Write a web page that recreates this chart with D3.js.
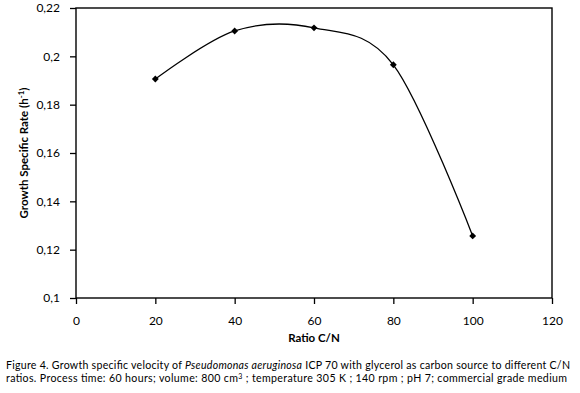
<!DOCTYPE html>
<html>
<head>
<meta charset="utf-8">
<script src="https://cdn.jsdelivr.net/npm/d3@7"></script>
<style>
  body { margin: 0; background: #fff; }
  text { font-family: "Lato", "DejaVu Sans", sans-serif; fill: #000; }
</style>
</head>
<body>
<div id="chart"></div>
<script>
// data
var ratioCN = [20, 40, 60, 80, 100];
var growthRate = [0.1906, 0.2105, 0.2118, 0.1965, 0.1257];
var xTicks = [0, 20, 40, 60, 80, 100, 120];
var yTicks = [0.1, 0.12, 0.14, 0.16, 0.18, 0.2, 0.22];

var width = 580, height = 393;
var margin = {left: 76, right: 28, top: 8, bottom: 95};

var svg = d3.select("#chart").append("svg")
    .attr("width", width)
    .attr("height", height);

var x = d3.scaleLinear().domain([0, 120]).range([margin.left, width - margin.right]);
var y = d3.scaleLinear().domain([0.1, 0.22]).range([height - margin.bottom, margin.top]);

var fmt = function(d) { return String(+d.toFixed(2)).replace(".", ","); };

// frame
svg.append("rect")
    .attr("x", x(0)).attr("y", y(0.22))
    .attr("width", x(120) - x(0)).attr("height", y(0.1) - y(0.22))
    .attr("fill", "none").attr("stroke", "#000").attr("stroke-width", 1.4);

var xAxis = svg.append("g")
    .attr("transform", "translate(0," + y(0.1) + ")")
    .call(d3.axisBottom(x).tickValues(xTicks).tickSize(6).tickSizeOuter(0).tickFormat(d3.format("d")));
var yAxis = svg.append("g")
    .attr("transform", "translate(" + x(0) + ",0)")
    .call(d3.axisLeft(y).tickValues(yTicks).tickSize(6).tickSizeOuter(0).tickFormat(fmt));

[xAxis, yAxis].forEach(function(a) {
  a.select(".domain").remove();
  a.selectAll("line").attr("stroke", "#000").attr("stroke-width", 1.3);
  a.selectAll("text").attr("font-size", 12).attr("font-family", "Lato, sans-serif");
});
xAxis.selectAll("text").attr("y", 27).attr("dy", 0);
yAxis.selectAll("text").attr("x", -16);

// curve
var pts = ratioCN.map(function(d, i) { return [d, growthRate[i]]; });
svg.append("path")
    .datum(pts)
    .attr("fill", "none")
    .attr("stroke", "#000")
    .attr("stroke-width", 1.3)
    .attr("d", d3.line()
        .x(function(d) { return x(d[0]); })
        .y(function(d) { return y(d[1]); })
        .curve(d3.curveCatmullRom.alpha(0)));

svg.append("g").selectAll("path")
    .data(pts)
    .enter().append("path")
    .attr("transform", function(d) { return "translate(" + x(d[0]) + "," + y(d[1]) + ")"; })
    .attr("d", d3.symbol().type(d3.symbolDiamond2).size(30))
    .attr("fill", "#000");

// axis titles
svg.append("text")
    .attr("x", x(60)).attr("y", 342)
    .attr("text-anchor", "middle")
    .attr("font-size", 11.5).attr("font-weight", "bold")
    .text("Ratio C/N");

var yt = svg.append("text")
    .attr("transform", "translate(28," + y(0.16) + ") rotate(-90)")
    .attr("text-anchor", "middle")
    .attr("font-size", 11.5).attr("font-weight", "bold");
yt.append("tspan").text("Growth Specific Rate (h");
yt.append("tspan").attr("dy", -4).attr("font-size", 8).text("-1");
yt.append("tspan").attr("dy", 4).text(")");

// caption
var cap = svg.append("g").attr("font-size", 10.6);
var l1 = cap.append("text").attr("x", 6).attr("y", 369)
    .attr("textLength", 564).attr("lengthAdjust", "spacing");
l1.append("tspan").text("Figure 4. Growth specific velocity of ");
l1.append("tspan").attr("font-style", "italic").text("Pseudomonas aeruginosa");
l1.append("tspan").text(" ICP 70 with glycerol as carbon source to different C/N");
var l2 = cap.append("text").attr("x", 6).attr("y", 382)
    .attr("textLength", 561).attr("lengthAdjust", "spacing");
l2.append("tspan").text("ratios. Process time: 60 hours; volume: 800 cm");
l2.append("tspan").attr("dy", -3).attr("font-size", 7).text("3");
l2.append("tspan").attr("dy", 3).text(" ; temperature 305 K ; 140 rpm ; pH 7; commercial grade medium");
</script>
</body>
</html>
